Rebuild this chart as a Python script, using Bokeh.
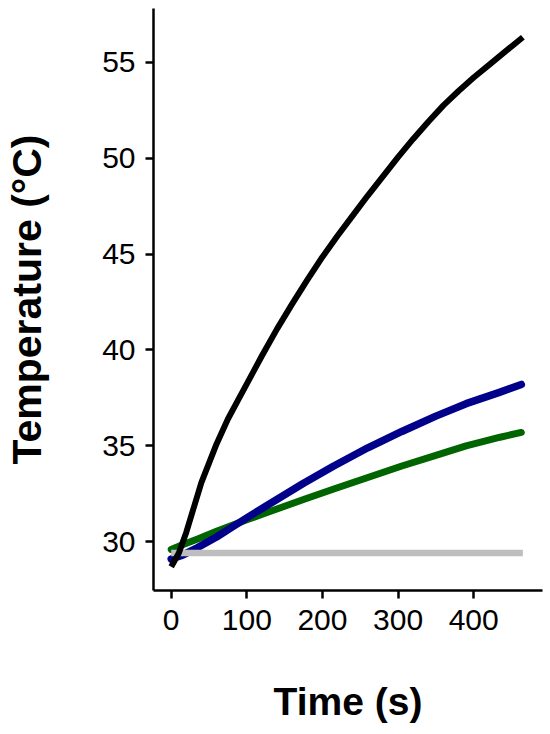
from bokeh.plotting import figure
from bokeh.models import Range1d, FixedTicker
from bokeh.embed import file_html
from bokeh.resources import INLINE

# Data
black_t = [0, 10, 20, 30, 40, 50, 60, 75, 90, 105, 120, 140, 160, 180, 200, 220,
           240, 260, 280, 300, 320, 340, 360, 380, 400, 420, 440, 465]
black_T = [28.7, 29.4, 30.5, 31.8, 33.1, 34.1, 35.1, 36.4, 37.5, 38.6, 39.7, 41.1,
           42.4, 43.65, 44.85, 45.95, 47.0, 48.05, 49.05, 50.05, 51.0, 51.9, 52.75,
           53.5, 54.2, 54.85, 55.5, 56.3]

blue_t = [0, 15, 35, 60, 80, 100, 125, 150, 175, 215, 260, 305, 350, 390, 435, 463]
blue_T = [29.1, 29.3, 29.7, 30.25, 30.75, 31.25, 31.85, 32.45, 33.05, 33.95, 34.9,
          35.75, 36.55, 37.2, 37.8, 38.2]

green_t = [0, 15, 35, 60, 80, 100, 125, 150, 175, 215, 260, 305, 350, 390, 435, 463]
green_T = [29.6, 29.85, 30.15, 30.55, 30.85, 31.15, 31.5, 31.85, 32.2, 32.75, 33.35,
           33.95, 34.5, 35.0, 35.45, 35.7]

gray_t = [0, 465]
gray_T = [29.42, 29.42]

x_ticks = [0, 100, 200, 300, 400]
y_ticks = [30, 35, 40, 45, 50, 55]

FONT = "Liberation Sans"

p = figure(width=550, height=734, output_backend="svg", toolbar_location=None,
           x_range=Range1d(-23.4, 491), y_range=Range1d(27.46, 57.8),
           min_border_left=153, min_border_right=8, min_border_top=8,
           min_border_bottom=144)
p.outline_line_color = None
p.grid.visible = False
p.background_fill_color = "white"
p.border_fill_color = "white"

p.line(green_t, green_T, line_color="#006400", line_width=7, line_cap="round",
       line_join="round")
p.line(blue_t, blue_T, line_color="#00008B", line_width=7.5, line_cap="round",
       line_join="round")
p.line(gray_t, gray_T, line_color="#BEBEBE", line_width=6.5)
p.line(black_t, black_T, line_color="black", line_width=6, line_join="round")

p.xaxis.ticker = FixedTicker(ticks=x_ticks)
p.yaxis.ticker = FixedTicker(ticks=y_ticks)

for ax in (p.xaxis, p.yaxis):
    ax.axis_line_width = 2.5
    ax.axis_line_color = "black"
    ax.major_tick_line_width = 2.5
    ax.major_tick_line_color = "black"
    ax.major_tick_out = 8
    ax.major_tick_in = 0
    ax.minor_tick_line_color = None
    ax.major_label_text_font = FONT
    ax.major_label_text_font_size = "30px"
    ax.major_label_text_color = "black"
    ax.axis_label_text_font = FONT
    ax.axis_label_text_font_style = "bold"
    ax.axis_label_text_color = "black"

p.xaxis.axis_label_text_font_size = "39px"
p.yaxis.axis_label_text_font_size = "41px"
p.xaxis.axis_label = "Time (s)"
p.yaxis.axis_label = "Temperature (°C)"
p.xaxis.major_label_standoff = 11
p.yaxis.major_label_standoff = 10
p.xaxis.axis_label_standoff = 47
p.yaxis.axis_label_standoff = 49

open("out.html", "w").write(file_html(p, INLINE))
